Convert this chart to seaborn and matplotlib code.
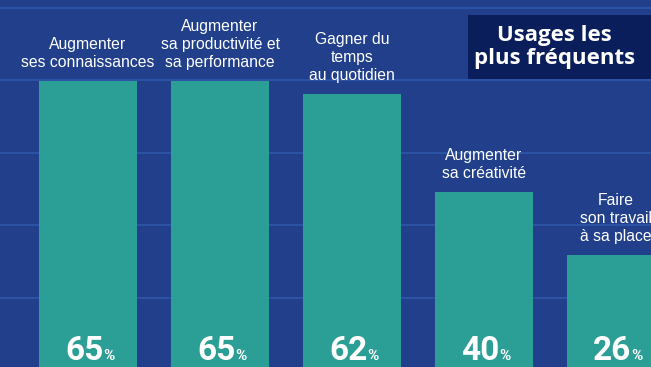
import matplotlib
matplotlib.use("Agg")
import matplotlib.pyplot as plt
import matplotlib.transforms as mtransforms
from matplotlib.patches import Rectangle
import seaborn as sns
import pandas as pd
import numpy as np

# Survey results: most frequent uses
categories = [
    "Augmenter\nses connaissances",
    "Augmenter\nsa productivité et\nsa performance",
    "Gagner du\ntemps\nau quotidien",
    "Augmenter\nsa créativité",
    "Faire\nson travail\nà sa place",
]
values = [65, 65, 62, 40, 26]
title = "Usages les\nplus fréquents"

BG = "#213f8b"
BAR = "#2b9f95"
GRID = "#2c52a3"
BOX = "#0b1e5c"

df = pd.DataFrame({"usage": categories, "pct": values})

sns.set_theme(style="white")
plt.rcParams["font.family"] = ["Liberation Sans", "DejaVu Sans"]

fig = plt.figure(figsize=(6.51, 3.67), dpi=100, facecolor=BG)
ax = fig.add_axes([0, 0, 1, 1])
ax.set_facecolor(BG)

sns.barplot(data=df, x="usage", y="pct", color=BAR, saturation=1,
            width=0.742, ax=ax, zorder=2, linewidth=0, edgecolor="none")

ax.set_xlim(-0.667, 4.265)
ax.set_ylim(0.8, 83.2)

# horizontal guide lines behind the bars
ax.set_yticks(np.arange(1, 6) * 16.3)
ax.yaxis.grid(True, color=GRID, linewidth=1.5)
ax.set_axisbelow(True)
ax.tick_params(left=False, bottom=False, labelleft=False, labelbottom=False)
ax.set_xlabel("")
ax.set_ylabel("")
for s in ax.spines.values():
    s.set_visible(False)

# category labels above each bar
for i, (cat, v) in enumerate(zip(categories, values)):
    ax.annotate(cat, xy=(i, v), xytext=(0, 8), textcoords="offset points",
                ha="center", va="bottom", color="white", fontsize=11.3,
                linespacing=1.25, zorder=3)

# value labels at the foot of each bar
trans = mtransforms.blended_transform_factory(ax.transData, ax.transAxes)
for i, v in enumerate(values):
    ax.annotate(f"{v}", xy=(i, 0.02), xycoords=trans,
                xytext=(11, 0), textcoords="offset points",
                ha="right", va="baseline", color="white",
                fontsize=24, fontweight="bold", family="Roboto", zorder=4)
    ax.annotate("%", xy=(i, 0.02), xycoords=trans,
                xytext=(11, 0), textcoords="offset points",
                ha="left", va="baseline", color="white",
                fontsize=11, fontweight="bold", family="Roboto", zorder=4)

# title panel in the upper right corner
fig.patches.append(Rectangle((0.7184, 0.7847), 0.2816, 0.1744,
                             transform=fig.transFigure, facecolor=BOX,
                             edgecolor="none", zorder=5))
fig.text(0.852, 0.872, title, ha="center", va="center", color="white",
         fontsize=16, fontweight="bold", family="Open Sans",
         linespacing=1.12, zorder=6)

fig.savefig("out.png", dpi=100, facecolor=BG)
